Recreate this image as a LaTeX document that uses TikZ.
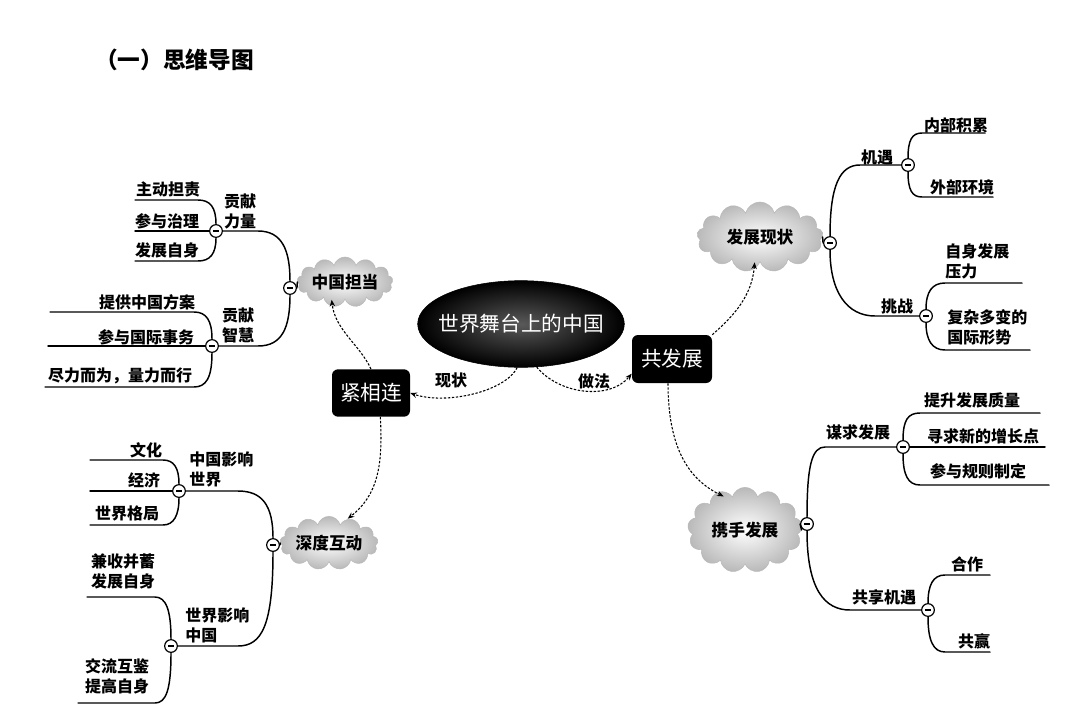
\documentclass[tikz,border=0pt]{standalone}
\usepackage{fontspec}
\setmainfont{Noto Sans CJK SC}
\usetikzlibrary{shapes.geometric,shapes.symbols,arrows.meta}
\tikzset{
 br/.style={line width=1.1pt, line cap=round},
 mn/.style={circle, draw, line width=0.9pt, fill=white, minimum size=9.5pt, inner sep=0pt,
   path picture={\draw[line width=1pt] ([xshift=-2.4pt]path picture bounding box.center) -- ([xshift=2.4pt]path picture bounding box.center);}},
 lf/.style={font=\fontsize{12}{15}\selectfont\bfseries, inner sep=0pt, align=left},
 cl/.style={cloud, cloud puffs=13, cloud ignores aspect, draw=gray!55, inner color=white, outer color=gray!55,
   font=\fontsize{12.5}{14}\selectfont\bfseries, inner sep=0pt},
 blk/.style={fill=black, rounded corners=4.5pt, text=white, font=\fontsize{15.5}{18}\selectfont, inner sep=0pt},
 da/.style={line width=0.8pt, dash pattern=on 1.8pt off 1.2pt, -{Stealth[length=5pt,width=4pt]}},
}
\begin{document}
\begin{tikzpicture}[x=0.75pt,y=-0.75pt]
\useasboundingbox[fill=white] (0,0) rectangle (1080,717);
% title
\node[anchor=west, inner sep=0pt, font=\fontsize{17}{20}\selectfont\bfseries] (title) at (95,60) {（一）思维导图};
% centre
\node[ellipse, minimum width=155pt, minimum height=65pt, inner sep=0pt, inner color=black!65, outer color=black, draw=black,
  label={[text=white, font=\fontsize{15.5}{18}\selectfont]center:世界舞台上的中国}] (ctr) at (521,324) {};
\node[blk, minimum width=58.5pt, minimum height=35.5pt] (jin) at (371,393) {紧相连};
\node[blk, minimum width=60pt, minimum height=36pt] (gong) at (672,359) {共发展};
\node[lf] (xz) at (451,380) {现状};
\node[lf] (zf) at (594,381) {做法};
% clouds
\node[cl, minimum width=64.5pt, minimum height=37.5pt] (c1) at (345,282) {中国担当};
\node[cl, minimum width=73.5pt, minimum height=40pt] (c2) at (329,543) {深度互动};
\node[cl, minimum width=94.5pt, minimum height=52.5pt] (c3) at (760,237) {发展现状};
\node[cl, minimum width=86pt, minimum height=64pt] (c4) at (745,530) {携手发展};
% dashed arrows
\draw[da] (ctr.265) .. controls (505,392) and (445,405) .. (jin.east);
\draw[da] (ctr.290) .. controls (560,395) and (610,400) .. (gong.200);
\draw[da] (jin.north) .. controls (360,345) and (335,330) .. ([xshift=-10pt]c1.south);
\draw[da] ([xshift=7pt]jin.south) .. controls (383,465) and (378,495) .. ([xshift=14pt,yshift=-2pt]c2.north);
\draw[da] (gong.north east) .. controls (735,315) and (752,295) .. ([xshift=-4pt]c3.south);
\draw[da] ([xshift=-3pt]gong.south) .. controls (668,450) and (690,480) .. ([xshift=-16pt,yshift=-7pt]c4.north);
% minus circles
\node[mn] (m1) at (290,288) {};
\node[mn] (ma) at (216,231) {};
\node[mn] (mb) at (212,346) {};
\node[mn] (m2) at (273,545) {};
\node[mn] (mc) at (179,491) {};
\node[mn] (md) at (171,646) {};
\node[mn] (m3) at (830,243) {};
\node[mn] (me) at (908,165) {};
\node[mn] (mf) at (926,316) {};
\node[mn] (m4) at (807,524) {};
\node[mn] (mg) at (903,447) {};
\node[mn] (mh) at (928,610) {};
% group A
\draw[br] (m1.east) -- (c1.west);
\draw[br] (m1.north) .. controls (290,250) and (282,231) .. (258,231) -- (ma.east);
\draw[br] (m1.south) .. controls (290,328) and (282,346) .. (258,346) -- (mb.east);
\draw[br] (ma.north) .. controls (216,207) and (210,200) .. (198,200) -- (135,200);
\draw[br] (ma.west) -- (135,231);
\draw[br] (ma.south) .. controls (216,254) and (210,261) .. (198,261) -- (135,261);
\draw[br] (mb.north) .. controls (212,320) and (206,312) .. (194,312) -- (50,312);
\draw[br] (mb.west) -- (48,346);
\draw[br] (mb.south) .. controls (212,378) and (206,387) .. (194,387) -- (45,387);
\node[lf] (a0) at (240,211) {贡献\\力量};
\node[lf] (a1) at (168,189) {主动担责};
\node[lf] (a2) at (167,221) {参与治理};
\node[lf] (a3) at (167,250) {发展自身};
\node[lf] (b0) at (238,325) {贡献\\智慧};
\node[lf] (b1) at (147,302) {提供中国方案};
\node[lf] (b2) at (146,337) {参与国际事务};
\node[lf] (b3) at (120,376) {尽力而为，量力而行};
% group B
\draw[br] (m2.east) -- (c2.west);
\draw[br] (m2.north) .. controls (273,505) and (262,491) .. (238,491) -- (mc.east);
\draw[br] (m2.south) .. controls (273,625) and (262,646) .. (238,646) -- (md.east);
\draw[br] (mc.north) .. controls (179,468) and (174,460) .. (163,460) -- (90,460);
\draw[br] (mc.west) -- (90,491);
\draw[br] (mc.south) .. controls (179,515) and (174,525) .. (163,525) -- (90,525);
\draw[br] (md.north) .. controls (171,610) and (166,597) .. (155,597) -- (87,597);
\draw[br] (md.south) .. controls (171,690) and (166,703) .. (155,703) -- (78,703);
\node[lf, anchor=west] (c0) at (189,469) {中国影响\\世界};
\node[lf] (c1t) at (146,450) {文化};
\node[lf] (c2t) at (144,480) {经济};
\node[lf] (c3t) at (127,513) {世界格局};
\node[lf, anchor=west] (d0) at (185,625) {世界影响\\中国};
\node[lf] (d1) at (123,571) {兼收并蓄\\发展自身};
\node[lf] (d2) at (117,676) {交流互鉴\\提高自身};
% group C
\draw[br] (c3.east) -- (m3.west);
\draw[br] (m3.north) .. controls (830,185) and (840,165) .. (860,165) -- (me.west);
\draw[br] (m3.south) .. controls (830,292) and (847,316) .. (875,316) -- (mf.west);
\draw[br] (me.north) .. controls (908,140) and (912,133) .. (922,133) -- (985,133);
\draw[br] (me.south) .. controls (908,190) and (912,197) .. (922,197) -- (993,197);
\draw[br] (mf.north) .. controls (926,292) and (932,283) .. (945,283) -- (1022,283);
\draw[br] (mf.south) .. controls (926,340) and (932,350) .. (945,350) -- (1030,350);
\node[lf] (e0) at (877,157) {机遇};
\node[lf] (e1) at (956,125) {内部积累};
\node[lf] (e2) at (962,187) {外部环境};
\node[lf] (f0) at (897,306) {挑战};
\node[lf, anchor=west] (f1) at (945,261) {自身发展\\压力};
\node[lf, anchor=west] (f2) at (947,327) {复杂多变的\\国际形势};
% group D
\draw[br] (c4.east) -- (m4.west);
\draw[br] (m4.north) .. controls (807,465) and (812,447) .. (825,447) -- (mg.west);
\draw[br] (m4.south) .. controls (807,590) and (825,610) .. (850,610) -- (mh.west);
\draw[br] (mg.north) .. controls (903,420) and (908,413) .. (920,413) -- (1040,413);
\draw[br] (mg.east) -- (1045,447);
\draw[br] (mg.south) .. controls (903,475) and (908,485) .. (920,485) -- (1049,485);
\draw[br] (mh.north) .. controls (928,585) and (933,575) .. (945,575) -- (990,575);
\draw[br] (mh.south) .. controls (928,640) and (933,652) .. (945,652) -- (990,652);
\node[lf] (g0) at (858,432) {谋求发展};
\node[lf] (g1) at (972,400) {提升发展质量};
\node[lf] (g2) at (983,436) {寻求新的增长点};
\node[lf] (g3) at (978,471) {参与规则制定};
\node[lf] (h0) at (884,597) {共享机遇};
\node[lf] (h1) at (967,564) {合作};
\node[lf] (h2) at (974,641) {共赢};
\end{tikzpicture}
\end{document}
